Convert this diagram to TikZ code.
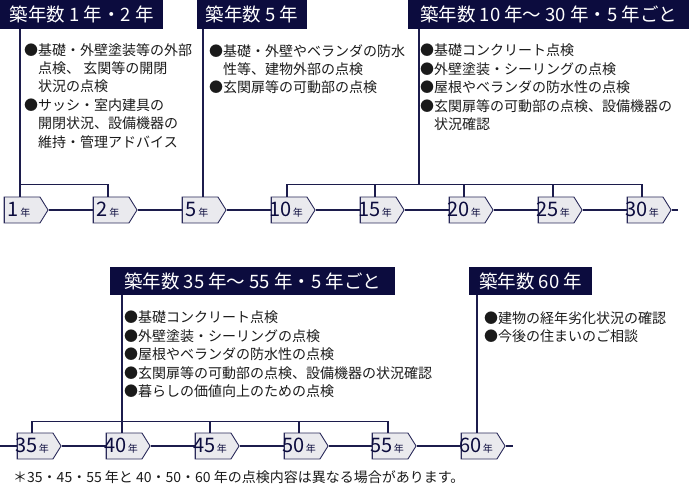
\documentclass[tikz,border=0pt]{standalone}
\usepackage{fontspec}
\setmainfont{Noto Sans CJK JP}
\usetikzlibrary{shapes.symbols}
\definecolor{navy}{HTML}{0C0C3E}
\definecolor{lncol}{HTML}{1C1C4C}
\definecolor{tagfill}{HTML}{EAEAEE}
\definecolor{tagdraw}{HTML}{2A2A5A}
\definecolor{txt}{HTML}{1A1A1A}
\newcommand{\yr}[1]{\kern-6pt #1\kern1.5pt{\fontsize{10}{10}\selectfont 年}}
\begin{document}
\begin{tikzpicture}[x=1pt,y=-1pt,
  hdr/.style={fill=navy, text=white, inner sep=0pt, anchor=north west,
    minimum height=29pt, font=\fontsize{18.5}{18.5}\selectfont},
  tagbox/.style={signal, signal to=east, signal pointer angle=116,
    draw=tagdraw, fill=tagfill, line width=0.9pt,
    minimum width=44pt, minimum height=26pt, inner sep=0pt, text=navy,
    font=\fontsize{20}{20}\selectfont,
    path picture={\draw[draw=tagdraw, line width=2.6pt]
      (path picture bounding box.north west) -- (path picture bounding box.south west);}},
  ln/.style={draw=lncol, line width=1.2pt},
  body/.style={anchor=north west, align=left, inner sep=0pt,
    font=\fontsize{14}{18.4}\selectfont, text=txt}]
\useasboundingbox (0,0) rectangle (689,484);

% headers
\node[hdr, minimum width=163pt] (h1) at (0,0) {築年数 1 年・2 年};
\node[hdr, minimum width=110pt] (h2) at (197,0) {築年数 5 年};
\node[hdr, minimum width=281pt] (h3) at (408,0) {築年数 10 年〜 30 年・5 年ごと};
\node[hdr, minimum width=285pt, minimum height=28pt] (h4) at (110,267) {築年数 35 年〜 55 年・5 年ごと};
\node[hdr, minimum width=123pt, minimum height=28pt] (h5) at (469,267) {築年数 60 年};

% bodies
\node[body] (b1) at (24,43) {●基礎・外壁塗装等の外部\\\hspace*{1em}点検、 玄関等の開閉\\\hspace*{1em}状況の点検\\●サッシ・室内建具の\\\hspace*{1em}開閉状況、設備機器の\\\hspace*{1em}維持・管理アドバイス};
\node[body] (b2) at (209,44) {●基礎・外壁やベランダの防水\\\hspace*{1em}性等、建物外部の点検\\●玄関扉等の可動部の点検};
\node[body] (b3) at (420,44) {●基礎コンクリート点検\\●外壁塗装・シーリングの点検\\●屋根やベランダの防水性の点検\\●玄関扉等の可動部の点検、設備機器の\\\hspace*{1em}状況確認};
\node[body] (b4) at (124,311) {●基礎コンクリート点検\\●外壁塗装・シーリングの点検\\●屋根やベランダの防水性の点検\\●玄関扉等の可動部の点検、設備機器の状況確認\\●暮らしの価値向上のための点検};
\node[body] (b5) at (484,311) {●建物の経年劣化状況の確認\\●今後の住まいのご相談};

% tags top row (center = left + 22)
\node[tagbox] (t1) at (22,210) {\yr{1}};
\node[tagbox] (t2) at (111,210) {\yr{2}};
\node[tagbox] (t5) at (200,210) {\yr{5}};
\node[tagbox] (t10) at (289,210) {\yr{10}};
\node[tagbox] (t15) at (378,210) {\yr{15}};
\node[tagbox] (t20) at (467,210) {\yr{20}};
\node[tagbox] (t25) at (556,210) {\yr{25}};
\node[tagbox] (t30) at (645,210) {\yr{30}};
\coordinate (endA) at (678,210);

% tags bottom row
\coordinate (startB) at (0,446);
\node[tagbox] (t35) at (35,446) {\yr{35}};
\node[tagbox] (t40) at (124,446) {\yr{40}};
\node[tagbox] (t45) at (213,446) {\yr{45}};
\node[tagbox] (t50) at (302,446) {\yr{50}};
\node[tagbox] (t55) at (390,446) {\yr{55}};
\node[tagbox] (t60) at (479,446) {\yr{60}};
\coordinate (endB) at (513,446);

% timelines
\draw[ln] (t1.east) -- (t2.west) (t2.east) -- (t5.west) (t5.east) -- (t10.west)
  (t10.east) -- (t15.west) (t15.east) -- (t20.west) (t20.east) -- (t25.west)
  (t25.east) -- (t30.west) (t30.east) -- (endA);
\draw[ln] (startB) -- (t35.west) (t35.east) -- (t40.west) (t40.east) -- (t45.west)
  (t45.east) -- (t50.west) (t50.east) -- (t55.west) (t55.east) -- (t60.west)
  (t60.east) -- (endB);

% header connectors top
\draw[ln] ([xshift=20pt]h1.south west) -- ([xshift=-2pt]t1.north);
\draw[ln] ([xshift=-2pt]t1.north) -- ++(0,-12) -| ([xshift=-3pt]t2.north);
\draw[ln] ([xshift=6pt]h2.south west) -- ([xshift=6pt]h2.south west |- t5.north);
\draw[ln] ([xshift=11pt]h3.south west) -- +(0,156);
\draw[ln] ([xshift=-2pt]t10.north) -- ++(0,-12) -| ([xshift=-3pt]t30.north);
\draw[ln] ([xshift=-3pt]t15.north) -- ++(0,-12);
\draw[ln] ([xshift=-3pt]t20.north) -- ++(0,-12);
\draw[ln] ([xshift=-3pt]t25.north) -- ++(0,-12);

% header connectors bottom
\draw[ln] ([xshift=12pt]h4.south west) -- ([xshift=12pt]h4.south west |- t40.north);
\draw[ln] ([xshift=-3pt]t35.north) -- ++(0,-11) -| ([xshift=-2pt]t55.north);
\draw[ln] ([xshift=-3pt]t45.north) -- ++(0,-11);
\draw[ln] ([xshift=-3pt]t50.north) -- ++(0,-11);
\draw[ln] ([xshift=8pt]h5.south west) -- ([xshift=8pt]h5.south west |- t60.north);

% footnote
\node[anchor=west, inner sep=0pt, text=txt, font=\fontsize{14}{14}\selectfont] (fn) at (13,477)
  {＊35・45・55 年と 40・50・60 年の点検内容は異なる場合があります。};
\end{tikzpicture}
\end{document}
